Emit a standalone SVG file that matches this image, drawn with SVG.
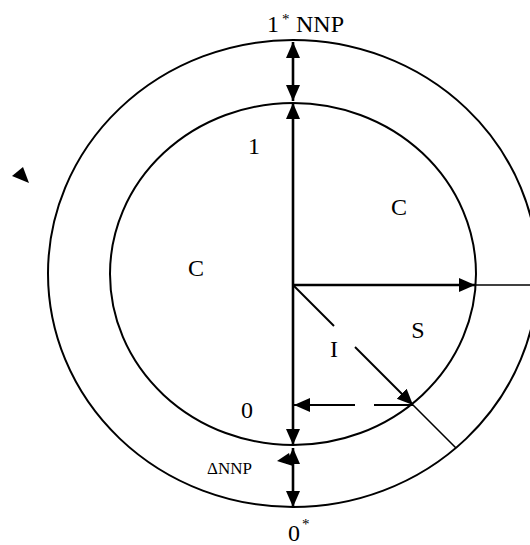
<svg xmlns="http://www.w3.org/2000/svg" width="530" height="545" viewBox="0 0 530 545">
<defs>
<marker id="ah" viewBox="0 0 16 16" refX="16" refY="8" markerWidth="16" markerHeight="16" markerUnits="userSpaceOnUse" orient="auto-start-reverse">
<path d="M0,1 L16,8 L0,15 Z" fill="#000"/>
</marker>
</defs>
<style>
.ring{fill:none;stroke:#000;stroke-width:2}
.thick{stroke:#000;stroke-width:2.6;fill:none}
.thin{stroke:#000;stroke-width:1.6;fill:none}
.lbl{font-family:"Liberation Serif","Times New Roman",serif;font-size:24px;fill:#000}
.sup{font-family:"Liberation Serif","Times New Roman",serif;font-size:15px;fill:#000}
.sm{font-family:"Liberation Serif","Times New Roman",serif;font-size:17px;fill:#000}
</style>
<rect width="530" height="545" fill="#fff"/>
<g id="outer"><ellipse class="ring" cx="293" cy="273.5" rx="245" ry="233.5"/></g>
<g id="inner"><ellipse class="ring" cx="293" cy="274" rx="183" ry="171"/></g>
<g id="connectors">
<line class="thick" x1="293" y1="285" x2="293" y2="103" marker-end="url(#ah)"/>
<line class="thick" x1="293" y1="285" x2="293" y2="445" marker-end="url(#ah)"/>
<line class="thick" x1="293" y1="42" x2="293" y2="101" marker-start="url(#ah)" marker-end="url(#ah)"/>
<line class="thick" x1="293" y1="448" x2="293" y2="507" marker-start="url(#ah)" marker-end="url(#ah)"/>
<line class="thick" x1="293" y1="285" x2="475" y2="285" marker-end="url(#ah)"/>
<line class="thin" x1="475" y1="285" x2="530" y2="285"/>
<line class="ring" x1="293" y1="285" x2="334" y2="326"/>
<line class="ring" x1="355" y1="347" x2="413" y2="405" marker-end="url(#ah)"/>
<line class="thin" x1="413" y1="405" x2="456" y2="448"/>
<line class="ring" x1="413" y1="405" x2="374" y2="405"/>
<line class="ring" x1="355" y1="405" x2="294" y2="405" marker-end="url(#ah)"/>
<polygon points="277,461 289,453 293,466" fill="#000"/>
<polygon points="12,176 23,167 29,183" fill="#000"/>
</g>
<g id="labels">
<text class="lbl" x="267" y="32">1</text>
<text class="sup" x="282" y="24">*</text>
<text class="lbl" x="296" y="32">NNP</text>
<text class="lbl" x="254" y="154" text-anchor="middle">1</text>
<text class="lbl" x="399" y="215" text-anchor="middle">C</text>
<text class="lbl" x="196" y="276" text-anchor="middle">C</text>
<text class="lbl" x="418" y="338" text-anchor="middle">S</text>
<text class="lbl" x="334" y="357" text-anchor="middle">I</text>
<text class="lbl" x="247" y="418" text-anchor="middle">0</text>
<text class="sm" x="207" y="474">ΔNNP</text>
<text class="lbl" x="288" y="541">0</text>
<text class="sup" x="302" y="529">*</text>
</g>
</svg>
